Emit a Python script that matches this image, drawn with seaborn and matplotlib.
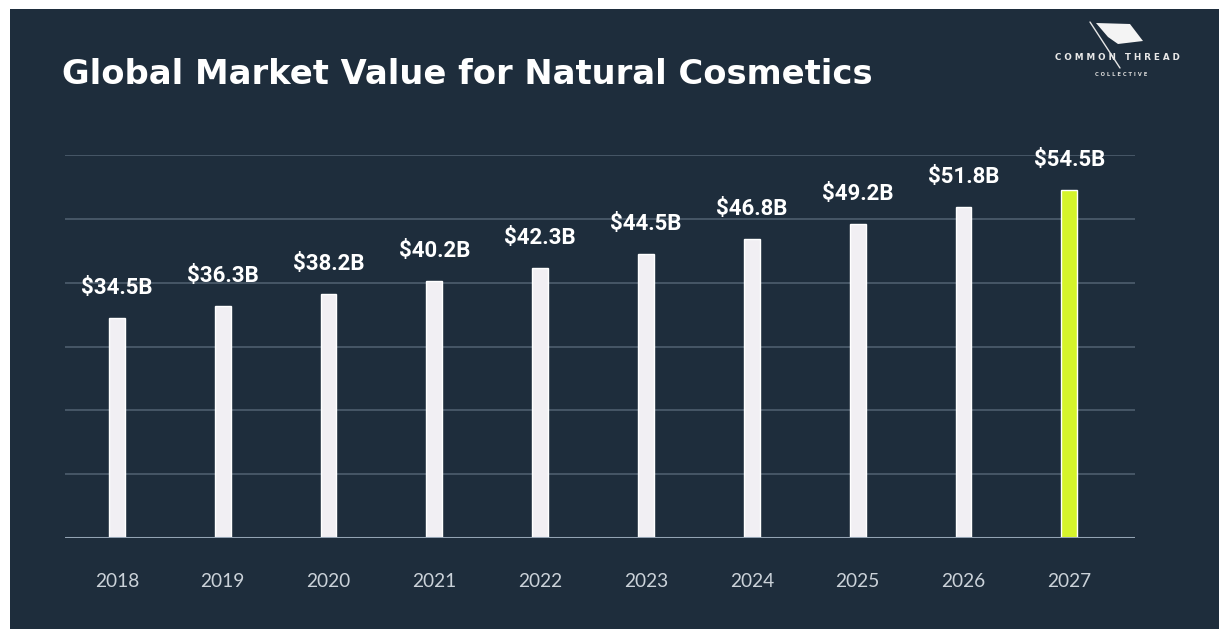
import matplotlib
matplotlib.use("Agg")
import matplotlib.pyplot as plt
import seaborn as sns
import pandas as pd
from matplotlib.patches import Rectangle, Polygon
from matplotlib.lines import Line2D

years = ["2018", "2019", "2020", "2021", "2022", "2023", "2024", "2025", "2026", "2027"]
values = [34.5, 36.3, 38.2, 40.2, 42.3, 44.5, 46.8, 49.2, 51.8, 54.5]
labels = ["$34.5B", "$36.3B", "$38.2B", "$40.2B", "$42.3B", "$44.5B", "$46.8B", "$49.2B", "$51.8B", "$54.5B"]
title = "Global Market Value for Natural Cosmetics"

BG = "#1e2d3c"
BAR = "#f1eff3"
HIGHLIGHT = "#d5f42b"
colors = [BAR] * (len(years) - 1) + [HIGHLIGHT]

sns.set_theme(style="dark")
plt.rcParams["font.family"] = ["Lato", "DejaVu Sans"]

W, H = 1223, 629
fig = plt.figure(figsize=(W / 100, H / 100), dpi=100, facecolor="white")
# dark panel
fig.patches.append(Rectangle((10 / W, 0), (1219 - 10) / W, 1 - 9 / H,
                             transform=fig.transFigure, facecolor=BG, edgecolor="none", zorder=-5))

ax = fig.add_axes([65 / W, 1 - 538 / H, (1135 - 65) / W, (538 - 155) / H])
ax.set_facecolor("none")

df = pd.DataFrame({"year": years, "value": values})
sns.barplot(data=df, x="year", y="value", hue="year", palette=colors, legend=False,
            width=0.15, saturation=1, ax=ax, zorder=3)

ax.set_ylim(0, 60)
ax.set_xlim(-0.49, len(years) - 1 + 0.62)
ax.set_yticks(range(0, 61, 10))
ax.yaxis.grid(True, color="#4a5a6a", linewidth=1.3)
ax.xaxis.grid(False)
ax.axhline(0, color="#93a3b3", linewidth=2.2, zorder=4)
ax.set_yticklabels([])
ax.tick_params(axis="y", length=0)
ax.tick_params(axis="x", length=0, pad=25, labelsize=13.8, labelcolor="#cbd2d9")
ax.set_xlabel("")
ax.set_ylabel("")
for s in ax.spines.values():
    s.set_visible(False)

for i, (v, t) in enumerate(zip(values, labels)):
    ax.annotate(t, (i, v), xytext=(0, 19), textcoords="offset pixels",
                ha="center", va="bottom", color="white", fontsize=16,
                fontweight="bold", family=["Roboto", "DejaVu Sans"], zorder=5)

fig.text(62 / W, 1 - 74 / H, title, color="white", fontsize=24.3, fontweight="bold",
         family=["DejaVu Sans"], ha="left", va="center")

# logo
flag = Polygon([(1096 / W, 1 - 23 / H), (1130 / W, 1 - 24 / H), (1143 / W, 1 - 41 / H),
                (1118 / W, 1 - 44 / H), (1108 / W, 1 - 37 / H)],
               closed=True, transform=fig.transFigure, facecolor="#f4f4f4", edgecolor="none")
fig.patches.append(flag)
fig.lines.append(Line2D([1090 / W, 1120 / W], [1 - 22 / H, 1 - 68 / H],
                        transform=fig.transFigure, color="#e6e6e6", linewidth=1))
fig.text(1117 / W, 1 - 58 / H, "C O M M O N   T H R E A D", color="#e8e8e8", fontsize=6.3,
         fontweight="heavy", ha="center", va="center", family=["DejaVu Sans"])
fig.text(1121 / W, 1 - 75 / H, "C O L L E C T I V E", color="#d8d8d8", fontsize=3.8,
         fontweight="bold", ha="center", va="center", family=["DejaVu Sans"])

fig.savefig("out.png", dpi=100, facecolor="white")
